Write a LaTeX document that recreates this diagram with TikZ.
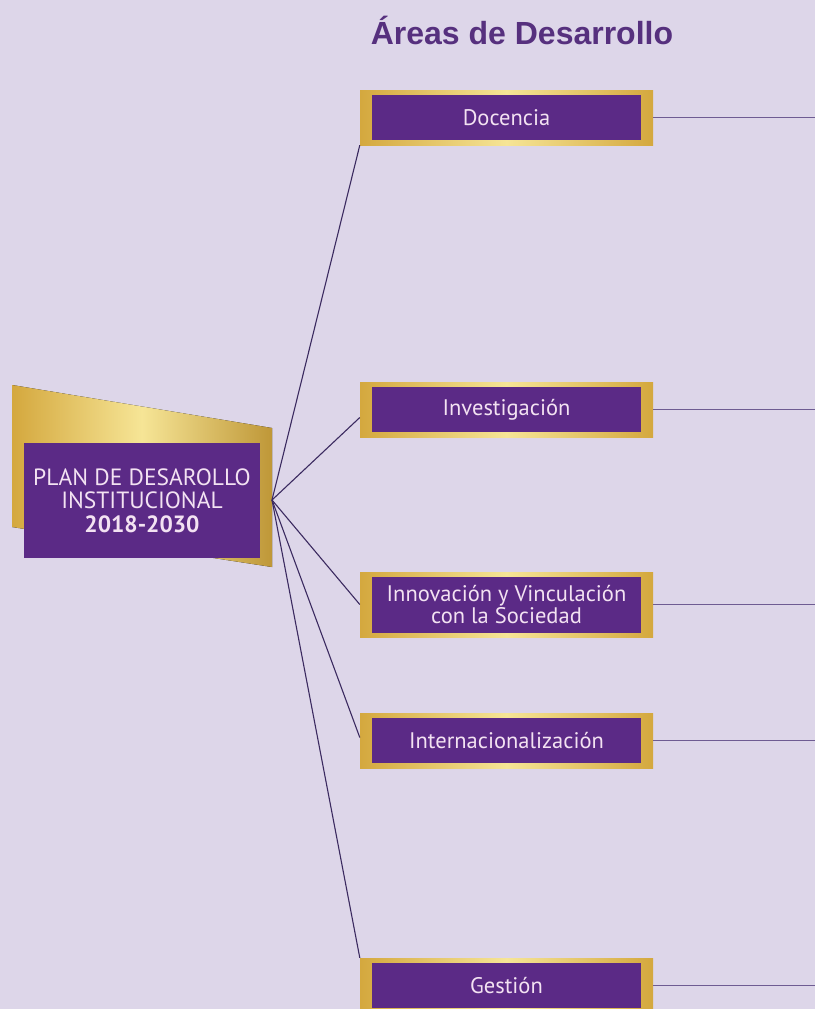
\documentclass[tikz,border=0pt]{standalone}
\usepackage{fontspec}
\setmainfont{PT Sans}
\newfontfamily\titlefont{Liberation Sans}
\definecolor{bgcol}{HTML}{DDD6E9}
\definecolor{titlepurple}{HTML}{56307E}
\definecolor{boxpurple}{HTML}{5B2A86}
\definecolor{boxtext}{HTML}{F3E2F2}
\definecolor{goldA}{HTML}{D4A83E}
\definecolor{goldB}{HTML}{F6E596}
\definecolor{fanline}{HTML}{3B2A60}
\definecolor{rimline}{HTML}{6E5C92}

\begin{document}
\begin{tikzpicture}[x=1pt,y=-1pt,
        goldframe/.style={minimum width=293pt,minimum height=55pt,inner sep=0pt,
            left color=goldA,right color=goldA,middle color=goldB},
        areabox/.style={fill=boxpurple,minimum width=269pt,minimum height=45pt,
            inner sep=0pt,text=boxtext,align=center,
            font=\fontsize{22.5}{19}\selectfont},
        fan/.style={draw=fanline,line width=1.1pt},
        rim/.style={draw=rimline,line width=1.5pt}]
    \fill[bgcol] (0,0) rectangle (815,1009);
    \clip (0,0) rectangle (815,1009);

    \node[text=titlepurple,font=\titlefont\bfseries\fontsize{32}{34}\selectfont]
        (title) at (522,30) {Áreas de Desarrollo};

    % main box
    \fill[left color=goldA,right color=goldA!90!black,middle color=goldB]
        (12,385) -- (272,428) -- (272,567) -- (12,527) -- cycle;
    \node[fill=boxpurple,minimum width=236pt,minimum height=115pt,inner sep=0pt,
        text=boxtext,align=center,font=\fontsize{23.5}{23.5}\selectfont]
        (pdi) at (142,500.5) {PLAN DE DESAROLLO\\INSTITUCIONAL\\\textbf{2018-2030}};
    \coordinate (hub) at (272,500);
    \coordinate (edge) at (815,0);

    % areas
    \node[goldframe] (docf) at (506.5,117.5) {};
    \node[areabox] (doc) at (docf) {Docencia};
    \node[goldframe] (invf) at (506.5,409.5) {};
    \node[areabox] (inv) at (invf) {Investigación};
    \node[goldframe,minimum height=65pt] (innf) at (506.5,604.5) {};
    \node[areabox,minimum height=56pt] (inn) at (innf) {Innovación y Vinculación\\con la Sociedad};
    \node[goldframe] (intf) at (506.5,740.5) {};
    \node[areabox] (int) at (intf) {Internacionalización};
    \node[goldframe] (gesf) at (506.5,985.5) {};
    \node[areabox] (ges) at (gesf) {Gestión};

    \draw[fan] (hub) -- (docf.south west);
    \draw[fan] (hub) -- ([yshift=-8pt]invf.west);
    \draw[fan] (hub) -- (innf.west);
    \draw[fan] (hub) -- ([yshift=3pt]intf.west);
    \draw[fan] (hub) -- (gesf.north west);

    \foreach \b in {docf,invf,innf,intf,gesf}
        \draw[rim] (\b.east) -- (\b.east -| edge);
\end{tikzpicture}
\end{document}
